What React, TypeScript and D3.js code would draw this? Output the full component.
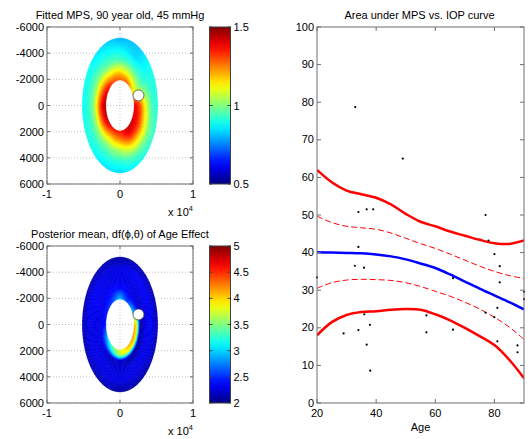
import React from 'react';
import * as d3 from 'd3';

// ---------- Right panel data ----------
const AGES = [20, 25, 30, 35, 40, 45, 50, 55, 60, 65, 70, 75, 80, 85, 90];
const MEAN = [40.1, 40.0, 39.9, 39.8, 39.5, 39.0, 38.2, 37.1, 35.9, 34.2, 32.3, 30.4, 28.6, 26.8, 24.9];
const UPPER_DASH = [49.7, 48.0, 47.0, 46.6, 46.2, 45.2, 43.8, 42.4, 41.1, 39.6, 38.0, 36.4, 35.0, 33.9, 33.1];
const LOWER_DASH = [30.5, 32.0, 32.7, 32.9, 32.8, 32.6, 32.0, 31.0, 29.7, 28.4, 26.8, 25.0, 22.8, 20.2, 16.9];
const UPPER_SOLID = [62.0, 58.7, 56.5, 55.5, 54.6, 52.8, 50.3, 48.2, 47.0, 45.6, 44.5, 43.4, 42.5, 42.3, 43.2];
const LOWER_SOLID = [18.0, 21.5, 23.4, 24.2, 24.4, 24.8, 25.0, 24.8, 23.6, 22.0, 20.0, 17.8, 15.4, 11.5, 6.6];

const POINT_AGE = [20, 34, 36.8, 39, 34, 32.8, 35.9, 36, 29, 34, 37.9, 36.8, 38, 57, 57, 66, 66, 77, 78, 80, 81.8, 81.8, 77, 80, 81, 87.8, 87.8, 81, 90, 90, 32.9, 49];
const POINT_VAL = [33.4, 50.8, 51.5, 51.5, 41.5, 36.5, 36, 23.6, 18.5, 19.4, 20.8, 15.5, 8.6, 23.3, 18.8, 19.5, 33.2, 50, 43.2, 39.6, 36.4, 32.1, 24, 22.8, 16.4, 15.3, 13.5, 25.3, 29.6, 27.6, 78.7, 65];

const RIGHT_X_TICKS = [20, 40, 60, 80];
const RIGHT_Y_TICKS = [0, 10, 20, 30, 40, 50, 60, 70, 80, 90, 100];

// ---------- Left panels data (polar grid: angle deg, 0=right, 90=down) ----------
const GRID_ANGLES = [0, 30, 60, 90, 120, 150, 180, 210, 240, 270, 300, 330];
const GRID_RADII = [1950, 2350, 2800, 3500, 4300, 5150];
const MPS_GRID = [
  [1.40, 1.37, 1.30, 1.12, 0.95, 0.90],
  [1.42, 1.40, 1.34, 1.18, 1.00, 0.92],
  [1.44, 1.41, 1.33, 1.14, 0.96, 0.88],
  [1.35, 1.30, 1.20, 1.03, 0.91, 0.84],
  [1.38, 1.28, 1.16, 1.00, 0.91, 0.85],
  [1.45, 1.38, 1.26, 1.03, 0.92, 0.90],
  [1.47, 1.42, 1.30, 1.04, 0.92, 0.88],
  [1.42, 1.34, 1.22, 1.02, 0.92, 0.88],
  [1.32, 1.24, 1.12, 0.96, 0.89, 0.84],
  [1.28, 1.22, 1.10, 0.94, 0.87, 0.80],
  [1.30, 1.18, 1.06, 0.92, 0.83, 0.82],
  [1.15, 1.10, 1.02, 0.93, 0.90, 0.90],
];
const AGE_EFFECT_GRID = [
  [4.20, 3.80, 2.05, 2.30, 2.35, 2.15],
  [4.20, 3.95, 2.05, 2.30, 2.30, 2.15],
  [4.10, 3.85, 2.05, 2.30, 2.30, 2.10],
  [3.80, 3.70, 2.20, 2.25, 2.30, 2.10],
  [3.50, 3.10, 2.15, 2.30, 2.30, 2.15],
  [3.00, 2.65, 2.30, 2.30, 2.30, 2.15],
  [2.45, 2.35, 2.30, 2.30, 2.30, 2.15],
  [2.45, 2.40, 2.30, 2.35, 2.35, 2.15],
  [2.60, 2.45, 2.35, 2.30, 2.30, 2.15],
  [2.95, 2.70, 2.40, 2.30, 2.30, 2.10],
  [2.60, 2.40, 2.30, 2.30, 2.35, 2.15],
  [3.00, 2.60, 2.20, 2.30, 2.35, 2.15],
];
const ONH_X = 2530;
const ONH_Y = -770;

const LEFT_X_TICKS = [-1, 0, 1];
const LEFT_Y_TICKS = [-6000, -4000, -2000, 0, 2000, 4000, 6000];
const MPS_CB_TICKS = [0.5, 1, 1.5];
const AGE_CB_TICKS = [2, 2.5, 3, 3.5, 4, 4.5, 5];

const FONT = 'Liberation Sans, Arial, sans-serif';
const AXIS_COLOR = '#6e6e6e';

function clamp01(v: number) { return Math.max(0, Math.min(1, v)); }
function jet(t: number) {
  const r = clamp01(1.5 - Math.abs(4 * t - 3));
  const g = clamp01(1.5 - Math.abs(4 * t - 2));
  const b = clamp01(1.5 - Math.abs(4 * t - 1));
  return d3.rgb(r * 255, g * 255, b * 255).formatHex();
}

function sampleGrid(grid: number[][], angDeg: number, r: number) {
  const step = GRID_ANGLES[1] - GRID_ANGLES[0];
  const a = ((angDeg % 360) + 360) % 360;
  const i0 = Math.floor(a / step) % GRID_ANGLES.length;
  const i1 = (i0 + 1) % GRID_ANGLES.length;
  const fa = (a - i0 * step) / step;
  let j0 = 0;
  while (j0 < GRID_RADII.length - 2 && r > GRID_RADII[j0 + 1]) j0++;
  const fr = clamp01((r - GRID_RADII[j0]) / (GRID_RADII[j0 + 1] - GRID_RADII[j0]));
  const v00 = grid[i0][j0], v01 = grid[i0][j0 + 1];
  const v10 = grid[i1][j0], v11 = grid[i1][j0 + 1];
  const v0 = v00 + (v01 - v00) * fr;
  const v1 = v10 + (v11 - v10) * fr;
  return v0 + (v1 - v0) * fa;
}

type HeatProps = {
  top: number;
  grid: number[][];
  domain: [number, number];
  cbTicks: number[];
  title: React.ReactNode;
  id: string;
};

function HeatPanel({ top, grid, domain, cbTicks, title, id }: HeatProps) {
  const x0 = 47, x1 = 193, y0 = top, y1 = top + 157;
  const xs = d3.scaleLinear().domain([-10000, 10000]).range([x0, x1]);
  const ys = d3.scaleLinear().domain([-6000, 6000]).range([y0, y1]);
  const cs = d3.scaleLinear().domain(domain).range([0, 1]).clamp(true);
  const rMin = GRID_RADII[0];
  const rMax = GRID_RADII[GRID_RADII.length - 1];
  const aStep = 3;
  const nR = 26;
  const cells: { d: string; c: string }[] = [];
  for (let a = 0; a < 360; a += aStep) {
    for (let k = 0; k < nR; k++) {
      const ra = rMin + ((rMax - rMin) * k) / nR;
      const rb = rMin + ((rMax - rMin) * (k + 1)) / nR;
      const a0 = (a * Math.PI) / 180, a1 = ((a + aStep) * Math.PI) / 180;
      const pts = [
        [ra * Math.cos(a0), ra * Math.sin(a0)],
        [rb * Math.cos(a0), rb * Math.sin(a0)],
        [rb * Math.cos(a1), rb * Math.sin(a1)],
        [ra * Math.cos(a1), ra * Math.sin(a1)],
      ];
      const d = 'M' + pts.map(p => `${xs(p[0]).toFixed(2)},${ys(p[1]).toFixed(2)}`).join('L') + 'Z';
      const v = sampleGrid(grid, a + aStep / 2, (ra + rb) / 2);
      cells.push({ d, c: jet(cs(v)) });
    }
  }
  const cbX0 = 209.5, cbX1 = 230.5;
  const cbY = d3.scaleLinear().domain(domain).range([y1, y0]);
  const gradStops = d3.range(0, 1.0001, 0.05);
  return (
    <g>
      <defs>
        <linearGradient id={`cb-${id}`} x1="0" y1="1" x2="0" y2="0">
          {gradStops.map((t, i) => (
            <stop key={i} offset={t} stopColor={jet(t)} />
          ))}
        </linearGradient>
      </defs>
      {LEFT_X_TICKS.map(t => (
        <line key={'gx' + t} x1={xs(t * 10000)} x2={xs(t * 10000)} y1={y0} y2={y1} stroke="#b0b0b0" strokeWidth={0.8} strokeDasharray="1,2" />
      ))}
      {LEFT_Y_TICKS.map(t => (
        <line key={'gy' + t} x1={x0} x2={x1} y1={ys(t)} y2={ys(t)} stroke="#b0b0b0" strokeWidth={0.8} strokeDasharray="1,2" />
      ))}
      {cells.map((c, i) => (
        <path key={i} d={c.d} fill={c.c} stroke={c.c} strokeWidth={0.5} />
      ))}
      <circle cx={xs(ONH_X)} cy={ys(ONH_Y)} r={5.5} fill="#fff" stroke="#444" strokeWidth={0.8} />
      <rect x={x0} y={y0} width={x1 - x0} height={y1 - y0} fill="none" stroke={AXIS_COLOR} strokeWidth={1} />
      {LEFT_X_TICKS.map(t => (
        <g key={'tx' + t}>
          <line x1={xs(t * 10000)} x2={xs(t * 10000)} y1={y1} y2={y1 - 3} stroke={AXIS_COLOR} />
          <line x1={xs(t * 10000)} x2={xs(t * 10000)} y1={y0} y2={y0 + 3} stroke={AXIS_COLOR} />
          <text x={xs(t * 10000)} y={y1 + 14} textAnchor="middle" fontSize={11} fontFamily={FONT}>{t}</text>
        </g>
      ))}
      {LEFT_Y_TICKS.map(t => (
        <g key={'ty' + t}>
          <line x1={x0} x2={x0 + 3} y1={ys(t)} y2={ys(t)} stroke={AXIS_COLOR} />
          <line x1={x1} x2={x1 - 3} y1={ys(t)} y2={ys(t)} stroke={AXIS_COLOR} />
          <text x={x0 - 3} y={ys(t) + 4} textAnchor="end" fontSize={11} fontFamily={FONT}>{t}</text>
        </g>
      ))}
      <text x={168} y={y1 + 32} fontSize={11} fontFamily={FONT}>
        x 10<tspan fontSize={7.5} dy={-5}>4</tspan>
      </text>
      <text x={120} y={y0 - 8} textAnchor="middle" fontSize={11} fontFamily={FONT}>{title}</text>
      <rect x={cbX0} y={y0} width={cbX1 - cbX0} height={y1 - y0} fill={`url(#cb-${id})`} stroke="#404040" strokeWidth={1} />
      {cbTicks.map(t => (
        <g key={'cb' + t}>
          <line x1={cbX1} x2={cbX1 - 3} y1={cbY(t)} y2={cbY(t)} stroke="#404040" />
          <line x1={cbX0} x2={cbX0 + 3} y1={cbY(t)} y2={cbY(t)} stroke="#404040" />
          <text x={cbX1 + 3} y={cbY(t) + 4} fontSize={11} fontFamily={FONT}>{t}</text>
        </g>
      ))}
    </g>
  );
}

function RightPanel() {
  const x0 = 317, x1 = 524, y0 = 27, y1 = 403;
  const xs = d3.scaleLinear().domain([20, 90]).range([x0, x1]);
  const ys = d3.scaleLinear().domain([0, 100]).range([y1, y0]);
  const line = (vals: number[]) =>
    d3.line<number>().x((_, i) => xs(AGES[i])).y(v => ys(v)).curve(d3.curveCatmullRom.alpha(0.5))(vals) || '';
  return (
    <g>
      <defs>
        <clipPath id="rclip">
          <rect x={x0} y={y0} width={x1 - x0} height={y1 - y0} />
        </clipPath>
      </defs>
      <g clipPath="url(#rclip)">
        <path d={line(UPPER_SOLID)} fill="none" stroke="#ff0000" strokeWidth={2.5} />
        <path d={line(LOWER_SOLID)} fill="none" stroke="#ff0000" strokeWidth={2.5} />
        <path d={line(UPPER_DASH)} fill="none" stroke="#ff0000" strokeWidth={1} strokeDasharray="6,3" />
        <path d={line(LOWER_DASH)} fill="none" stroke="#ff0000" strokeWidth={1} strokeDasharray="6,3" />
        <path d={line(MEAN)} fill="none" stroke="#0000ff" strokeWidth={2.5} />
      </g>
      {POINT_AGE.map((a, i) => (
        <circle key={i} cx={xs(a)} cy={ys(POINT_VAL[i])} r={1.1} fill="#000" />
      ))}
      <rect x={x0} y={y0} width={x1 - x0} height={y1 - y0} fill="none" stroke={AXIS_COLOR} strokeWidth={1} />
      {RIGHT_X_TICKS.map(t => (
        <g key={'x' + t}>
          <line x1={xs(t)} x2={xs(t)} y1={y1} y2={y1 - 4} stroke={AXIS_COLOR} />
          <line x1={xs(t)} x2={xs(t)} y1={y0} y2={y0 + 4} stroke={AXIS_COLOR} />
          <text x={xs(t)} y={y1 + 14} textAnchor="middle" fontSize={11} fontFamily={FONT}>{t}</text>
        </g>
      ))}
      {RIGHT_Y_TICKS.map(t => (
        <g key={'y' + t}>
          <line x1={x0} x2={x0 + 4} y1={ys(t)} y2={ys(t)} stroke={AXIS_COLOR} />
          <line x1={x1} x2={x1 - 4} y1={ys(t)} y2={ys(t)} stroke={AXIS_COLOR} />
          <text x={x0 - 3} y={ys(t) + 3.5} textAnchor="end" fontSize={11} fontFamily={FONT}>{t}</text>
        </g>
      ))}
      <text x={(x0 + x1) / 2} y={431} textAnchor="middle" fontSize={11} fontFamily={FONT}>Age</text>
      <text x={(x0 + x1) / 2 - 1} y={19} textAnchor="middle" fontSize={11} fontFamily={FONT}>Area under MPS vs. IOP curve</text>
    </g>
  );
}

export default function App() {
  return (
    <svg width={528} height={439} style={{ position: 'absolute', left: 0, top: 0, background: '#fff' }}>
      <rect width={528} height={439} fill="#fff" />
      <HeatPanel top={27} grid={MPS_GRID} domain={[0.5, 1.5]} cbTicks={MPS_CB_TICKS} title="Fitted MPS, 90 year old, 45 mmHg" id="mps" />
      <HeatPanel top={246} grid={AGE_EFFECT_GRID} domain={[2, 5]} cbTicks={AGE_CB_TICKS} title="Posterior mean, df(ϕ,θ) of Age Effect" id="age" />
      <RightPanel />
    </svg>
  );
}
